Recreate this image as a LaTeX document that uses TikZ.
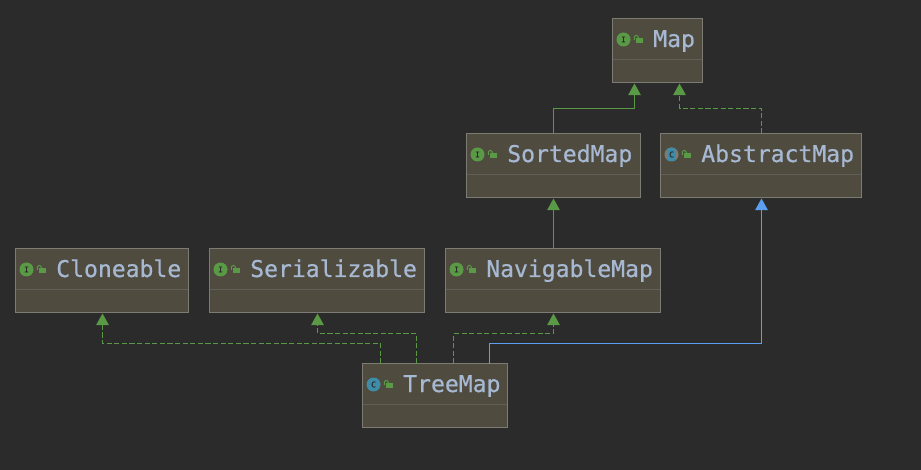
\documentclass[tikz,border=0pt]{standalone}
\usepackage{fontspec}
\usepackage{xcolor}
\usetikzlibrary{arrows.meta,positioning,calc}
\newfontfamily\umlfont[FakeBold=0.7]{DejaVu Sans Mono}
\definecolor{canvasbg}{HTML}{2B2B2B}
\definecolor{boxfill}{HTML}{4F4B3F}
\definecolor{boxedge}{HTML}{7D7C74}
\definecolor{boxline}{HTML}{625F58}
\definecolor{titletext}{HTML}{A6B8D2}
\definecolor{ifacegreen}{HTML}{5A9A46}
\definecolor{classteal}{HTML}{3F8CA8}
\definecolor{extblue}{HTML}{5C9EF0}
\newcommand{\umlclass}[6]{%
    \node[umlbox, minimum width=#4*0.75pt] (#1) at (#2+0.5,#3+0.5) {};
    \draw[boxline] ($(#1.north west)+(0.5,41)$) -- ($(#1.north east)+(-0.5,41)$);
    \node[#6] (#1icon) at ($(#1.north west)+(11,21)$) {};
    \node[lockbody] (#1lock) at ($(#1.north west)+(27,22)$) {};
    \draw[ifacegreen, line width=0.75pt] ($(#1lock.west)+(-1.7,-0.5)$) -- ++(0,-2.5) arc[start angle=180, end angle=360, radius=2] -- ++(0,0.8);
    \node[title] (#1title) at ($(#1.north west)+(40.5,28.5)$) {#5};
}
\begin{document}
\begin{tikzpicture}[
    x=0.75pt, y=-0.75pt,
    umlbox/.style={draw=boxedge, fill=boxfill, anchor=north west, line width=0.75pt, minimum height=48pt, inner sep=0pt, outer sep=0pt},
    title/.style={anchor=base west, text=titletext, font=\umlfont\fontsize{17.3}{20}\selectfont, inner sep=0pt},
    lockbody/.style={fill=ifacegreen, minimum width=4.8pt, minimum height=4pt, inner sep=0pt},
    ifaceicon/.style={circle, fill=ifacegreen, minimum size=10.5pt, inner sep=0pt, path picture={\node[text=canvasbg, font=\umlfont\fontsize{6}{6}\selectfont] at (path picture bounding box.center) {I};}},
    classicon/.style={circle, fill=classteal, minimum size=10.5pt, inner sep=0pt, path picture={\node[text=canvasbg, font=\umlfont\fontsize{6}{6}\selectfont] at (path picture bounding box.center) {C};}},
    absicon/.style={circle, fill=boxedge, minimum size=10.5pt, inner sep=0pt, path picture={\fill[classteal] ($(path picture bounding box.center)+(-4.5,-7)$) rectangle ($(path picture bounding box.center)+(4.5,7)$); \node[text=canvasbg, font=\umlfont\fontsize{6}{6}\selectfont] at (path picture bounding box.center) {C};}},
    impl/.style={-{Triangle[length=8.8pt, width=9.5pt]}, ifacegreen, line width=0.9pt},
    realize/.style={impl, dash pattern=on 3.8pt off 1.9pt},
    extend/.style={-{Triangle[length=8.8pt, width=9.5pt]}, extblue, line width=0.9pt}
]
\useasboundingbox[fill=canvasbg] (0,0) rectangle (921,470);

\umlclass{map}{612}{18}{90}{Map}{ifaceicon}
\umlclass{sorted}{466}{133}{174}{SortedMap}{ifaceicon}
\umlclass{abstract}{660}{133}{201}{AbstractMap}{absicon}
\umlclass{cloneable}{15}{248}{173}{Cloneable}{ifaceicon}
\umlclass{serial}{209}{248}{215}{Serializable}{ifaceicon}
\umlclass{navigable}{445}{248}{215}{NavigableMap}{ifaceicon}
\umlclass{treemap}{362}{363}{145}{TreeMap}{classicon}

% connector ends on the box edges
\coordinate (mapleft) at ($(map.south west)+(22,1)$);
\coordinate (mapright) at ($(map.south west)+(67,1)$);
\coordinate (treea) at ($(treemap.north west)+(18,0)$);
\coordinate (treeb) at ($(treemap.north west)+(54,0)$);
\coordinate (treec) at ($(treemap.north west)+(91,0)$);
\coordinate (treed) at ($(treemap.north west)+(127,0)$);
\coordinate (clonein) at ($(cloneable.south west)+(87,1)$);
\coordinate (serialin) at ($(serial.south west)+(108,1)$);
\coordinate (navout) at ($(navigable.north west)+(108,0)$);
\coordinate (navin) at ($(navigable.south west)+(108,1)$);
\coordinate (sortedout) at ($(sorted.north west)+(87,0)$);
\coordinate (sortedin) at ($(sorted.south west)+(87,1)$);
\coordinate (absin) at ($(abstract.south west)+(101,1)$);
\coordinate (absout) at ($(abstract.north west)+(101,0)$);

\draw[impl] (sortedout) |- ($(mapleft)+(0,25)$) -- (mapleft);
\draw[realize] (absout) |- ($(mapright)+(0,25)$) -- (mapright);
\draw[impl] (navout) -- (sortedin);
\draw[extend] (treed) |- ($(absin)+(0,145)$) -- (absin);
\draw[realize] (treec) |- ($(navin)+(0,20)$) -- (navin);
\draw[realize] (treeb) |- ($(serialin)+(0,20)$) -- (serialin);
\draw[realize] (treea) |- ($(clonein)+(0,30)$) -- (clonein);
\end{tikzpicture}
\end{document}
